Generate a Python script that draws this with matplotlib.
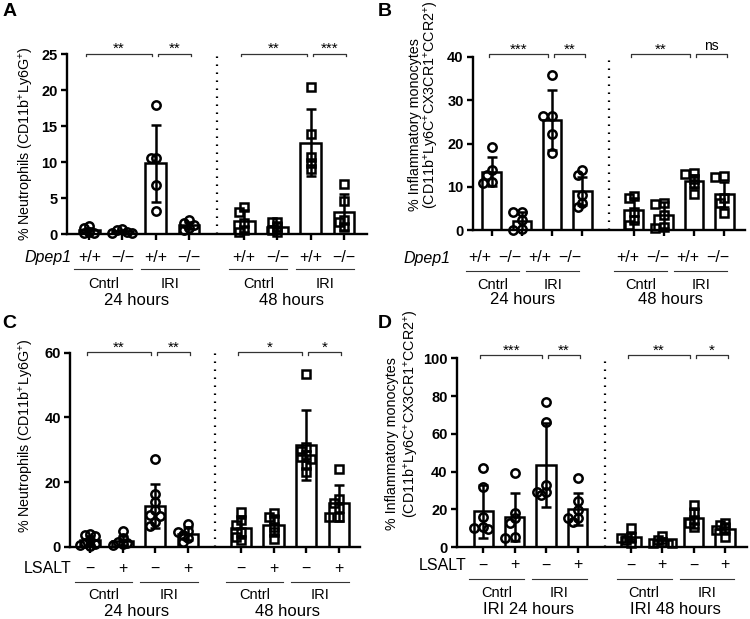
import numpy as np
import matplotlib
matplotlib.use("Agg")
import matplotlib.pyplot as plt

plt.rcParams['font.family'] = ['Liberation Sans', 'DejaVu Sans']
plt.rcParams['mathtext.default'] = 'regular'

# ---- data ----
conds = ["Cntrl", "IRI"]
times_ab = ["24 hours", "48 hours"]
times_d = ["IRI 24 hours", "IRI 48 hours"]
geno = ["+/+", "\u2212/\u2212"]
lsalt = ["\u2212", "+"]

# A: % neutrophils, Dpep1 +/+ and -/-
A_pts = [
    [1.1, 0.9, 0.2, 0.1, 0.3],
    [0.7, 0.5, 0.2, 0.3, 0.1],
    [17.9, 10.5, 10.6, 6.8, 3.2],
    [1.9, 1.5, 1.3, 0.6, 0.8],
    [3.7, 3.1, 1.5, 0.3, 0.5],
    [1.7, 1.6, 1.0, 0.5, 0.3],
    [20.4, 13.9, 10.7, 9.8, 9.0],
    [6.9, 4.6, 1.9, 1.6, 1.0],
]
A_mean = [0.5, 0.35, 9.8, 1.2, 1.8, 1.0, 12.7, 3.1]
A_sd = [0.4, 0.25, 5.4, 0.5, 1.5, 0.6, 4.7, 2.5]
A_stars = ["**", "**", "**", "***"]

# B: % inflammatory monocytes, Dpep1
B_pts = [
    [19.2, 13.8, 12.8, 11.2, 10.8],
    [4.2, 4.2, 2.3, 0.2, 0.0],
    [35.8, 26.3, 26.3, 22.2, 17.8],
    [13.8, 12.7, 8.1, 6.2, 5.4],
    [7.9, 7.3, 4.2, 2.3, 1.2],
    [6.3, 6.0, 3.5, 0.8, 0.4],
    [12.9, 13.1, 11.9, 10.6, 8.3],
    [12.5, 12.3, 7.3, 6.2, 4.0],
]
B_mean = [13.5, 2.0, 25.5, 9.0, 4.6, 3.4, 11.3, 8.3]
B_sd = [3.4, 2.2, 6.9, 3.3, 2.7, 3.0, 1.4, 2.9]
B_stars = ["***", "**", "**", "ns"]

# C: % neutrophils, LSALT - / +
C_pts = [
    [4.0, 3.6, 3.2, 2.0, 1.2, 0.8, 0.5, 0.3],
    [4.8, 2.6, 1.5, 1.2, 0.8, 0.6],
    [27.1, 16.3, 13.7, 11.3, 9.8, 9.5, 7.7, 6.5],
    [7.0, 4.9, 4.6, 3.6, 2.6, 1.5],
    [10.8, 8.2, 6.7, 4.6, 3.1, 2.1],
    [10.3, 9.3, 8.2, 6.2, 4.4, 2.3],
    [53.3, 30.7, 29.5, 28.4, 27.6, 27.0, 25.3, 23.2],
    [23.9, 14.6, 13.4, 11.9, 9.3, 9.1],
]
C_mean = [2.0, 1.9, 12.5, 4.0, 5.9, 6.8, 31.5, 13.5]
C_sd = [1.4, 1.5, 6.8, 2.0, 3.1, 2.9, 10.8, 5.6]
C_stars = ["**", "**", "*", "*"]

# D: % inflammatory monocytes, LSALT
D_pts = [
    [41.8, 32.1, 16.2, 10.9, 10.1, 9.8],
    [39.5, 18.0, 15.3, 12.7, 5.6, 4.8],
    [76.7, 66.5, 33.0, 29.5, 27.7, 29.3],
    [36.5, 24.7, 19.8, 15.3, 15.3, 13.2],
    [10.0, 5.6, 5.1, 3.9, 2.1],
    [6.0, 3.9, 3.0, 2.5, 2.5],
    [22.4, 18.0, 14.5, 12.7, 10.9],
    [12.7, 11.8, 10.0, 9.2, 5.6],
]
D_mean = [19.0, 16.0, 43.5, 20.3, 5.3, 3.6, 15.5, 9.9]
D_sd = [14.0, 12.5, 22.3, 8.5, 2.3, 1.5, 5.5, 2.8]
D_stars = ["***", "**", "**", "*"]

fig = plt.figure(figsize=(7.5, 6.19), dpi=100)
W, H = 750.0, 619.0


def swarm(vals, center, xpx, ypx, dmin=5.0, step=0.15):
    placed = []
    xs = [0.0] * len(vals)
    order = np.argsort(vals)[::-1]
    for i in order:
        v = vals[i]
        for k in [0, -1, 1, -2, 2, -3, 3]:
            x = center + k * step
            if all(np.hypot((x - px) * xpx, (v - py) * ypx) >= dmin for px, py in placed):
                break
        placed.append((x, v))
        xs[i] = x
    return xs


def panel(box, letter, letter_xy, pts, mean, sd, ymax, yticks, stars, gap, xlim, dot_x,
          row_label, row_italic, row_x, tick_labels, times, ylab_lines, offs, lab_shift,
          br_off):
    l, t, r, b = box
    ax = fig.add_axes([l / W, 1 - b / H, (r - l) / W, (b - t) / H])
    xpos = [0, 1, 2, 3, gap, gap + 1, gap + 2, gap + 3]
    ax.set_xlim(*xlim)
    ax.set_ylim(0, ymax)
    xpx = ax.bbox.width / (xlim[1] - xlim[0])
    ypx = ax.bbox.height / ymax

    ax.bar(xpos, mean, width=0.62, color='white', edgecolor='black', linewidth=1.8, zorder=2)
    ax.errorbar(xpos, mean, yerr=sd, fmt='none', ecolor='black', elinewidth=1.8,
                capsize=3.6, capthick=1.8, zorder=3)
    for i, (x, vals) in enumerate(zip(xpos, pts)):
        mk = 'o' if i < 4 else 's'
        xs = swarm(vals, x, xpx, ypx)
        ax.plot(xs, vals, linestyle='none', marker=mk, ms=6.0 if mk == 'o' else 5.6,
                mfc='none', mec='black', mew=1.8, zorder=4, clip_on=False)

    # dotted separator
    ax.plot([dot_x, dot_x], [0, ymax], color='black', lw=1.6,
            linestyle=(0, (0.7, 2.9)), zorder=1, clip_on=False)

    for s in ['top', 'right']:
        ax.spines[s].set_visible(False)
    for s in ['left', 'bottom']:
        ax.spines[s].set_linewidth(1.7)
    ax.set_xticks(xpos)
    ax.set_xticklabels([])
    ax.set_yticks(yticks)
    ax.set_yticklabels([str(v) for v in yticks], fontsize=10.5, fontweight='bold')
    ax.tick_params(width=1.7, length=4.5, pad=2)

    # significance brackets
    ybr = ymax + br_off / ypx
    tk = 2.5 / ypx
    for g in range(2):
        x0 = xpos[4 * g]
        spans = [(x0 - 0.1, x0 + 2 - 0.12), (x0 + 2 + 0.06, x0 + 3 + 0.08)]
        for (a, c), s in zip(spans, stars[2 * g:2 * g + 2]):
            ax.plot([a, a, c, c], [ybr - tk, ybr, ybr, ybr - tk], color='#333333', lw=0.9,
                    clip_on=False)
            if s == 'ns':
                ax.text((a + c) / 2, ybr + 3.5 / ypx, s, ha='center', va='baseline',
                        fontsize=10)
            else:
                ax.text((a + c) / 2, ybr + 0.3 / ypx, s, ha='center', va='baseline',
                        fontsize=11)

    # category labels below the axis
    tr = ax.get_xaxis_transform()
    hpx = ax.bbox.height
    y1, y2, y3, y4 = [-o / hpx for o in offs]
    for g in range(2):
        x0 = xpos[4 * g]
        sh = lab_shift[g]
        for k in range(4):
            ax.text(x0 + k + sh, y1, tick_labels[k % 2], transform=tr, ha='center',
                    va='center', fontsize=11.5)
        line_ends = []
        for p in range(2):
            a = x0 + 2 * p + sh - 0.45
            c = x0 + 2 * p + 1 + sh + 0.3
            line_ends += [a, c]
            ax.plot([a, c], [y2, y2], transform=tr, color='#333333', lw=0.8, clip_on=False)
            ax.text((a + c) / 2, y3, conds[p], transform=tr, ha='center', va='center',
                    fontsize=10.5)
        ax.text((line_ends[0] + line_ends[-1]) / 2, y4, times[g], transform=tr,
                ha='center', va='center', fontsize=12)
    ax.text(row_x, y1, row_label, transform=tr, ha='right', va='center', fontsize=11.5,
            style='italic' if row_italic else 'normal')

    for txt, x, y in ylab_lines:
        fig.text(x / W, 1 - y / H, txt, rotation=90, ha='center', va='center', fontsize=10.3)
    fig.text(letter_xy[0] / W, 1 - letter_xy[1] / H, letter, fontsize=14, fontweight='bold',
             ha='left', va='top')
    return ax


neut = "% Neutrophils (CD11b$^{+}$Ly6G$^{+}$)"
mono1 = "% Inflammatory monocytes"
mono2 = "(CD11b$^{+}$Ly6C$^{+}$CX3CR1$^{+}$CCR2$^{+}$)"

panel((66.7, 54, 366.7, 234), "A", (3, 3), A_pts, A_mean, A_sd, 25, [0, 5, 10, 15, 20, 25],
      A_stars, 4.67, (-0.68, 8.36), 3.84, "Dpep1", True, -0.55, geno, times_ab,
      [(neut, 26, 144)], (23.7, 35.3, 50.3, 66), (0, 0), 0.5)

panel((472.7, 57, 745, 230), "B", (378, 3), B_pts, B_mean, B_sd, 40, [0, 10, 20, 30, 40],
      B_stars, 4.7, (-0.63, 8.39), 3.89, "Dpep1", True, -1.35, geno, times_ab,
      [(mono1, 415, 125), (mono2, 432, 105)], (28, 40.7, 55, 70), (-0.4, -0.2), 3)

panel((70, 352.7, 360, 546.7), "C", (2, 315), C_pts, C_mean, C_sd, 60, [0, 20, 40, 60],
      C_stars, 4.63, (-0.61, 8.28), 3.83, "LSALT", False, -0.56, lsalt, times_ab,
      [(neut, 26.7, 436)], (21.7, 35, 48.3, 65), (0, 0), 0.5)

panel((456.7, 358.3, 746.7, 547.3), "D", (378, 315), D_pts, D_mean, D_sd, 100,
      [0, 20, 40, 60, 80, 100], D_stars, 4.7, (-0.85, 8.39), 3.88, "LSALT", False, -0.53,
      lsalt, times_d, [(mono1, 392, 444), (mono2, 412, 414)], (17.7, 32, 46, 62.7),
      (0, 0), 3)

fig.savefig("out.png", dpi=100)
